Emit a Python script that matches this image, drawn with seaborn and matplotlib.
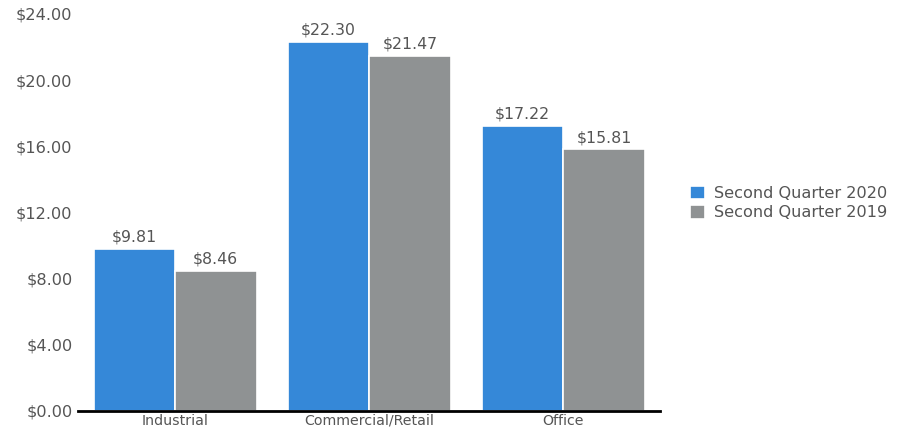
import pandas as pd
import matplotlib.pyplot as plt
import seaborn as sns

# datos del grafico
categories = ["Industrial", "Commercial/Retail", "Office"]
q2_2020 = [9.81, 22.30, 17.22]
q2_2019 = [8.46, 21.47, 15.81]
series_names = ["Second Quarter 2020", "Second Quarter 2019"]
y_ticks = [0, 4, 8, 12, 16, 20, 24]

df = pd.DataFrame({
    "category": categories * 2,
    "value": q2_2020 + q2_2019,
    "series": [series_names[0]] * 3 + [series_names[1]] * 3,
})

sns.set_style("white")
plt.rcParams["font.family"] = ["DejaVu Sans"]
text_color = "#555555"

fig = plt.figure(figsize=(9.07, 4.37), dpi=100)
ax = fig.add_axes([0.086, 0.06, 0.642, 0.908])

sns.barplot(data=df, x="category", y="value", hue="series",
            palette=["#3588D8", "#8F9293"], width=0.84, saturation=1,
            edgecolor="white", linewidth=1.2, ax=ax)

for cont in ax.containers:
    ax.bar_label(cont, labels=[f"${v:.2f}" for v in cont.datavalues],
                 padding=3, fontsize=11.3, color=text_color)

ax.set_xlim(-0.5, 2.5)
ax.set_ylim(0, 24)
ax.set_yticks(y_ticks)
ax.set_yticklabels([f"${t:.2f}" for t in y_ticks])
ax.tick_params(axis="y", labelsize=11.6, colors=text_color, length=0, pad=4)
ax.tick_params(axis="x", labelsize=10.2, colors=text_color, length=0, pad=2)
ax.set_xlabel("")
ax.set_ylabel("")

for s in ["top", "right", "left"]:
    ax.spines[s].set_visible(False)
ax.spines["bottom"].set_color("black")
ax.spines["bottom"].set_linewidth(2)

ax.legend(loc="center left", bbox_to_anchor=(0.745, 0.535),
          bbox_transform=fig.transFigure, frameon=False,
          fontsize=11.6, labelcolor=text_color, handlelength=0.9,
          handleheight=0.9, handletextpad=0.6, labelspacing=0.25)

fig.savefig("out.png", dpi=100)
